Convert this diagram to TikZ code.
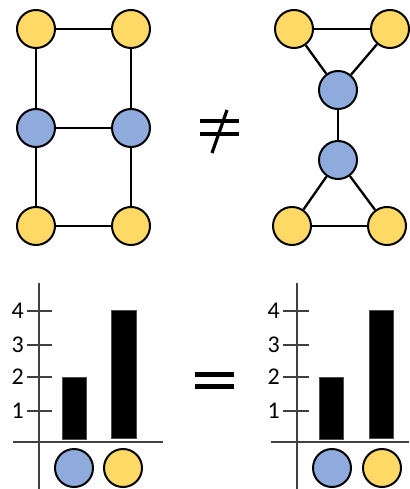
\documentclass[tikz,border=0pt]{standalone}
\usepackage{fontspec}
\newfontfamily\numfont{Carlito}
\definecolor{gold}{HTML}{FFD966}
\definecolor{bluish}{HTML}{8FAADC}
\definecolor{axisgray}{HTML}{404040}
\tikzset{
  vtx/.style={circle, draw=black, line width=2pt, minimum size=38pt, inner sep=0pt},
  yv/.style={vtx, fill=gold},
  bv/.style={vtx, fill=bluish},
  edge/.style={line width=2.3pt, black},
  axis/.style={line width=1.2pt, axisgray},
  bar/.style={fill=black, draw=black!70, line width=0.5pt},
  lbl/.style={font=\numfont\fontsize{24}{24}\selectfont, anchor=east, inner sep=1pt},
  symb/.style={line width=4pt, black},
}
\begin{document}
\begin{tikzpicture}[x=1pt,y=-1pt]
\useasboundingbox (0,0) rectangle (409,489);
% left graph
\node[yv] (L1) at (36,29) {};
\node[yv] (L2) at (131,29) {};
\node[bv] (L3) at (36,128) {};
\node[bv] (L4) at (131,128) {};
\node[yv] (L5) at (36,226) {};
\node[yv] (L6) at (131,226) {};
\draw[edge] (L1) -- (L2);
\draw[edge] (L1) -- (L3);
\draw[edge] (L2) -- (L4);
\draw[edge] (L3) -- (L4);
\draw[edge] (L3) -- (L5);
\draw[edge] (L4) -- (L6);
\draw[edge] (L5) -- (L6);
% right graph
\node[yv] (R1) at (294,29) {};
\node[yv] (R2) at (390,29) {};
\node[bv] (R3) at (338,90) {};
\node[bv] (R4) at (338,160) {};
\node[yv] (R5) at (292,226) {};
\node[yv] (R6) at (387,226) {};
\draw[edge] (R1) -- (R2);
\draw[edge] (R1) -- (R3);
\draw[edge] (R2) -- (R3);
\draw[edge] (R3) -- (R4);
\draw[edge] (R4) -- (R5);
\draw[edge] (R4) -- (R6);
\draw[edge] (R5) -- (R6);
% not equal sign
\draw[symb] (200,121) -- (239,121);
\draw[symb] (200,134) -- (239,134);
\draw[line width=3.2pt] (227,110) -- (212,153);
% equal sign
\draw[line width=5pt] (195,374) -- (234,374);
\draw[line width=5pt] (195,386) -- (234,386);
% left chart
\draw[axis] (39,283) -- (39,489);
\draw[axis] (13,442) -- (163,442);
\foreach \v/\y in {1/411,2/377,3/345,4/311}{
  \draw[axis] (27,\y) -- (52,\y);
  \node[lbl] at (25,\y) {\v};
}
\fill[bar] (62,377) rectangle (86,439);
\fill[bar] (111,310) rectangle (136,438);
\node[bv] (LB) at (74,468) {};
\node[yv] (LY) at (123,468) {};
% right chart
\draw[axis] (297,283) -- (297,489);
\draw[axis] (271,442) -- (409,442);
\foreach \v/\y in {1/411,2/377,3/345,4/311}{
  \draw[axis] (283,\y) -- (309,\y);
  \node[lbl] at (281,\y) {\v};
}
\fill[bar] (319,377) rectangle (343,439);
\fill[bar] (369,310) rectangle (393,438);
\node[bv] (RB) at (332,468) {};
\node[yv] (RY) at (382,468) {};
\end{tikzpicture}
\end{document}
